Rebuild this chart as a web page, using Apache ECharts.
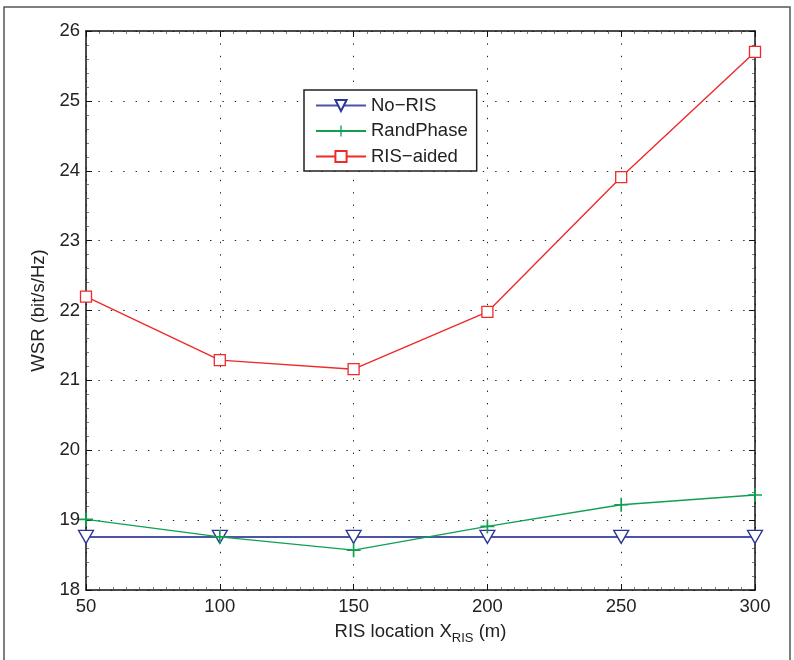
<!DOCTYPE html>
<html>
<head>
<meta charset="utf-8">
<script src="https://cdn.jsdelivr.net/npm/echarts@6/dist/echarts.min.js"></script>
<style>html,body{margin:0;padding:0;background:#fff}#c{width:794px;height:660px}</style>
</head>
<body>
<div id="c"></div>
<script>
const xValues = [50, 100, 150, 200, 250, 300];
const noRIS = [18.76, 18.76, 18.76, 18.76, 18.76, 18.76];
const randPhase = [19.01, 18.76, 18.57, 18.91, 19.22, 19.36];
const risAided = [22.2, 21.29, 21.16, 21.98, 23.91, 25.70];
const seriesNames = ['No\u2212RIS', 'RandPhase', 'RIS\u2212aided'];

const FONT = 'Liberation Sans, Arial, Helvetica, sans-serif';
const FS = 18.5;
const pairs = ys => xValues.map((x, i) => [x, ys[i]]);
const plus = 'path://M4.4,0h1.2v4.4h4.4v1.2h-4.4v4.4h-1.2v-4.4h-4.4v-1.2h4.4z';

const axisCommon = {
  axisLine: {show: true, lineStyle: {color: '#111', width: 1.5}},
  axisTick: {show: true, inside: true, length: 6, lineStyle: {color: '#111', width: 1}},
  minorTick: {show: true, length: 3, lineStyle: {color: '#444', width: 0.7}},
  axisLabel: {color: '#222', fontFamily: FONT, fontSize: FS}
};
const grid = {type: [1.4, 11], color: '#222', width: 1};

const chart = echarts.init(document.getElementById('c'));
chart.setOption({
  animation: false,
  backgroundColor: '#fff',
  graphic: [{
    type: 'rect', z: -1, silent: true,
    shape: {x: 4, y: 7, width: 786, height: 700},
    style: {fill: 'none', stroke: '#555', lineWidth: 1.5}
  }],
  grid: {left: 86, top: 31, right: 39, bottom: 70},
  xAxis: [
    Object.assign({}, axisCommon, {
      type: 'value', min: 50, max: 300, interval: 50, position: 'bottom',
      minorTick: Object.assign({}, axisCommon.minorTick, {splitNumber: 10}),
      splitLine: {show: true, lineStyle: grid},
      axisLabel: Object.assign({}, axisCommon.axisLabel, {margin: 7}),
      name: 'RIS location X{sub|RIS} (m)',
      nameLocation: 'middle', nameGap: 32,
      nameTextStyle: {
        color: '#222', fontFamily: FONT, fontSize: FS,
        rich: {sub: {fontSize: 13, fontFamily: FONT, color: '#222', padding: [0, 0, -14, 0]}}
      }
    }),
    Object.assign({}, axisCommon, {
      type: 'value', min: 50, max: 300, interval: 50, position: 'top',
      minorTick: Object.assign({}, axisCommon.minorTick, {splitNumber: 10}),
      axisLabel: {show: false}, splitLine: {show: false}
    })
  ],
  yAxis: [
    Object.assign({}, axisCommon, {
      type: 'value', min: 18, max: 26, interval: 1, position: 'left',
      minorTick: Object.assign({}, axisCommon.minorTick, {splitNumber: 5}),
      splitLine: {show: true, lineStyle: grid},
      axisLabel: Object.assign({}, axisCommon.axisLabel, {margin: 6}),
      name: 'WSR (bit/s/Hz)', nameLocation: 'middle', nameGap: 33,
      nameTextStyle: {color: '#222', fontFamily: FONT, fontSize: FS}
    }),
    Object.assign({}, axisCommon, {
      type: 'value', min: 18, max: 26, interval: 1, position: 'right',
      minorTick: Object.assign({}, axisCommon.minorTick, {splitNumber: 5}),
      axisLabel: {show: false}, splitLine: {show: false}
    })
  ],
  legend: {
    orient: 'vertical', left: 304, top: 90,
    padding: [6, 9, 5, 11], itemGap: 6.5, itemWidth: 50, itemHeight: 14,
    borderColor: '#222', borderWidth: 1.5, backgroundColor: '#fff',
    textStyle: {color: '#222', fontFamily: FONT, fontSize: FS, padding: [0, 4, 0, 0]},
    data: seriesNames
  },
  series: [
    {
      name: seriesNames[0], type: 'line', data: pairs(noRIS),
      symbol: 'triangle', symbolRotate: 180, symbolSize: [15, 13],
      lineStyle: {color: '#4a55a8', width: 2},
      itemStyle: {color: '#fff', borderColor: '#2a3596', borderWidth: 1.3}
    },
    {
      name: seriesNames[1], type: 'line', data: pairs(randPhase),
      symbol: plus, symbolSize: 14,
      lineStyle: {color: '#10a050', width: 1.4},
      itemStyle: {color: '#10a050', borderWidth: 0}
    },
    {
      name: seriesNames[2], type: 'line', data: pairs(risAided),
      symbol: 'rect', symbolSize: 11,
      lineStyle: {color: '#ee2a2a', width: 1.4},
      itemStyle: {color: '#fff', borderColor: '#ee2a2a', borderWidth: 1.3}
    }
  ]
});
</script>
</body>
</html>
